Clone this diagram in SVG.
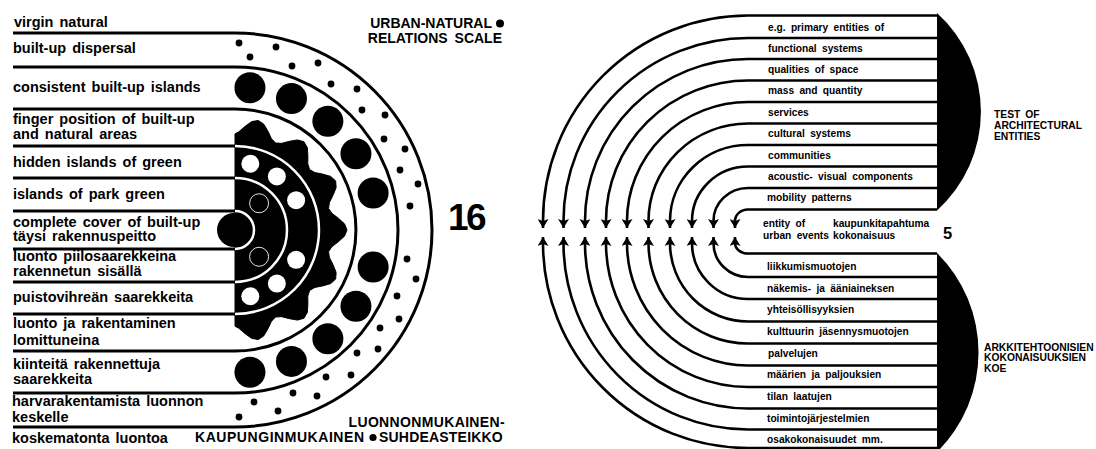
<svg xmlns="http://www.w3.org/2000/svg" width="1096" height="449" viewBox="0 0 1096 449">
<defs>
<style>
.lbl{font-family:"Liberation Sans",Arial,sans-serif;font-weight:bold;font-size:14.5px;word-spacing:2px;fill:#000}
.ttl{font-family:"Liberation Sans",Arial,sans-serif;font-weight:bold;font-size:14px;word-spacing:3px;fill:#000}
.rl{font-family:"Liberation Sans",Arial,sans-serif;font-weight:bold;font-size:10.2px;word-spacing:2.5px;fill:#000}
.rt{font-family:"Liberation Sans",Arial,sans-serif;font-weight:bold;font-size:10.3px;word-spacing:2px;fill:#000}
.ln{fill:none;stroke:#000;stroke-width:3}
.wl{fill:none;stroke:#fff;stroke-width:2.5}
.rln{fill:none;stroke:#000;stroke-width:2.6;marker-end:url(#ah)}
.dot{fill:#000}
.wd{fill:#fff}
.oc{fill:none;stroke:#fff;stroke-width:0.9}
</style>
<marker id="ah" viewBox="0 0 9 11" refX="9" refY="5.5" markerWidth="9" markerHeight="11" markerUnits="userSpaceOnUse" orient="auto">
<path d="M0,0 L9,5.5 L0,11 L2,5.5 z" fill="#000"/>
</marker>
</defs>
<rect width="1096" height="449" fill="#fff"/>

<!-- LEFT: urban-natural relations scale -->
<g id="scale-rings">
<path class="ln" d="M13,33 H235 A197,197 0 0 1 235,427 H13"/>
<path class="ln" d="M13,67 H235 A163,163 0 0 1 235,393 H13"/>
<path class="ln" d="M13,109 H235 A121,121 0 0 1 235,351 H13"/>
<path class="ln" d="M13,146 H235 M13,314 H235"/>
<path class="ln" d="M13,178 H235 M13,282 H235"/>
<path class="ln" d="M13,211 H235 M13,249 H235"/>
</g>

<g id="gear">
<path fill="#000" stroke="#000" stroke-width="1" stroke-linejoin="round" d="M235,133.8 L238.86,131.74 L244.97,126.48 L251.68,121.62 L258.29,120.45 L263.84,124.2 L268,131.37 L271.44,138.66 L275.57,142.99 L281.54,143.37 L289.34,141.33 L297.5,139.9 L303.95,141.74 L307.31,147.55 L307.89,155.82 L307.79,163.88 L309.61,169.59 L314.81,172.54 L322.71,174.12 L330.68,176.42 L335.66,180.9 L336.13,187.59 L333.03,195.28 L329.41,202.48 L328.54,208.4 L331.92,213.35 L338.33,218.23 L344.48,223.78 L347,230 L344.48,236.22 L338.33,241.77 L331.92,246.65 L328.54,251.6 L329.41,257.52 L333.03,264.72 L336.13,272.41 L335.66,279.1 L330.68,283.58 L322.71,285.88 L314.81,287.46 L309.61,290.41 L307.79,296.12 L307.89,304.18 L307.31,312.45 L303.95,318.26 L297.5,320.1 L289.34,318.67 L281.54,316.63 L275.57,317.01 L271.44,321.34 L268,328.63 L263.84,335.8 L258.29,339.55 L251.68,338.38 L244.97,333.52 L238.86,328.26 L235,326.2 Z"/>
<path class="wl" d="M235,146 A84,84 0 0 1 235,314"/>
<path class="wl" d="M235,178 A52,52 0 0 1 235,282"/>
<path class="wl" d="M235,211 A19,19 0 0 1 235,249"/>
<circle class="wd" cx="250.3" cy="163.74" r="9"/>
<circle class="wd" cx="276.86" cy="176.42" r="9"/>
<circle class="wd" cx="296.12" cy="200.19" r="9"/>
<circle class="wd" cx="296.12" cy="259.81" r="9"/>
<circle class="wd" cx="276.86" cy="283.58" r="9"/>
<circle class="wd" cx="250.3" cy="296.26" r="9"/>
<circle class="oc" cx="259.09" cy="203.25" r="9.5"/>
<circle class="oc" cx="259.09" cy="256.75" r="9.5"/>
<circle class="dot" cx="234" cy="230" r="17"/>
</g>

<g id="built-up-islands">
<circle class="dot" cx="373.13" cy="192.99" r="15.5"/>
<circle class="dot" cx="355.94" cy="153.69" r="15.5"/>
<circle class="dot" cx="327.87" cy="121.26" r="15.5"/>
<circle class="dot" cx="291.45" cy="98.61" r="15.5"/>
<circle class="dot" cx="249.95" cy="87.78" r="15.5"/>
<circle class="dot" cx="373.13" cy="267.01" r="15.5"/>
<circle class="dot" cx="355.94" cy="306.31" r="15.5"/>
<circle class="dot" cx="327.87" cy="338.74" r="15.5"/>
<circle class="dot" cx="291.45" cy="361.39" r="15.5"/>
<circle class="dot" cx="249.95" cy="372.22" r="15.5"/>
</g>

<g id="dispersal-dots">
<circle class="dot" cx="239" cy="43" r="3.4"/>
<circle class="dot" cx="250" cy="57" r="3.4"/>
<circle class="dot" cx="276" cy="47" r="3.4"/>
<circle class="dot" cx="292" cy="66" r="3.4"/>
<circle class="dot" cx="318" cy="63" r="3.4"/>
<circle class="dot" cx="331" cy="84" r="3.4"/>
<circle class="dot" cx="357" cy="89" r="3.4"/>
<circle class="dot" cx="362" cy="110" r="3.4"/>
<circle class="dot" cx="385" cy="115" r="3.4"/>
<circle class="dot" cx="384" cy="139" r="3.4"/>
<circle class="dot" cx="405" cy="149" r="3.4"/>
<circle class="dot" cx="400" cy="170" r="3.4"/>
<circle class="dot" cx="418" cy="184" r="3.4"/>
<circle class="dot" cx="410" cy="206" r="3.4"/>
<circle class="dot" cx="407" cy="259" r="3.4"/>
<circle class="dot" cx="416" cy="279" r="3.4"/>
<circle class="dot" cx="397" cy="296" r="3.4"/>
<circle class="dot" cx="399" cy="319" r="3.4"/>
<circle class="dot" cx="380" cy="328" r="3.4"/>
<circle class="dot" cx="378" cy="349" r="3.4"/>
<circle class="dot" cx="357" cy="353" r="3.4"/>
<circle class="dot" cx="351" cy="375" r="3.4"/>
<circle class="dot" cx="326" cy="377" r="3.4"/>
<circle class="dot" cx="317" cy="396" r="3.4"/>
<circle class="dot" cx="293" cy="393" r="3.4"/>
<circle class="dot" cx="278" cy="411" r="3.4"/>
<circle class="dot" cx="254" cy="402" r="3.4"/>
<circle class="dot" cx="239" cy="417" r="3.4"/>
</g>

<g id="left-labels">
<text class="lbl" x="14" y="26.5">virgin natural</text>
<text class="lbl" x="13" y="53.3">built-up dispersal</text>
<text class="lbl" x="13" y="92.3">consistent built-up islands</text>
<text class="lbl" x="13" y="124.3">finger position of built-up</text>
<text class="lbl" x="13" y="138.5">and natural areas</text>
<text class="lbl" x="13" y="166.5">hidden islands of green</text>
<text class="lbl" x="13" y="198.5">islands of park green</text>
<text class="lbl" x="13" y="226.6">complete cover of built-up</text>
<text class="lbl" x="13" y="240.8">täysi rakennuspeitto</text>
<text class="lbl" x="13" y="261">luonto piilosaarekkeina</text>
<text class="lbl" x="13" y="275.7">rakennetun sisällä</text>
<text class="lbl" x="13" y="301.7">puistovihreän saarekkeita</text>
<text class="lbl" x="13" y="327.7">luonto ja rakentaminen</text>
<text class="lbl" x="13" y="344.5">lomittuneina</text>
<text class="lbl" x="13" y="369.3">kiinteitä rakennettuja</text>
<text class="lbl" x="13" y="384">saarekkeita</text>
<text class="lbl" x="12" y="406">harvarakentamista luonnon</text>
<text class="lbl" x="12" y="421.5">keskelle</text>
<text class="lbl" x="12" y="443">koskematonta luontoa</text>
</g>

<g id="left-titles">
<text class="ttl" x="492" y="28" text-anchor="end">URBAN-NATURAL</text>
<circle class="dot" cx="500" cy="23.5" r="4"/>
<text class="ttl" x="502" y="43" text-anchor="end">RELATIONS SCALE</text>
<text x="448" y="230" font-family="Liberation Sans, Arial, sans-serif" font-weight="bold" font-size="37" letter-spacing="-2.5">16</text>
<text class="ttl" x="505" y="427" text-anchor="end" letter-spacing="0.35">LUONNONMUKAINEN-</text>
<text class="ttl" x="195" y="442" letter-spacing="0.55">KAUPUNGINMUKAINEN</text>
<circle class="dot" cx="373" cy="437.5" r="3.6"/>
<text class="ttl" x="379" y="442" letter-spacing="0.2">SUHDEASTEIKKO</text>
</g>

<!-- RIGHT: test of architectural entities -->
<g id="connectors">
<path class="rln" d="M937,15.5 H748 A205,205.5 0 0 0 543,221 V228"/>
<path class="rln" d="M937,38 H748 A184.5,183 0 0 0 563.5,221 V228"/>
<path class="rln" d="M937,59 H748 A163,162 0 0 0 585,221 V228"/>
<path class="rln" d="M937,80.5 H748 A142,140.5 0 0 0 606,221 V228"/>
<path class="rln" d="M937,102 H748 A121,119 0 0 0 627,221 V228"/>
<path class="rln" d="M937,123.5 H748 A99.5,97.5 0 0 0 648.5,221 V228"/>
<path class="rln" d="M937,145 H748 A78,76 0 0 0 670,221 V228"/>
<path class="rln" d="M937,166.5 H748 A56,54.5 0 0 0 692,221 V228"/>
<path class="rln" d="M937,188 H748 A34.5,33 0 0 0 713.5,221 V228"/>
<path class="rln" d="M937,209.5 H748 A13,11.5 0 0 0 735,221 V228"/>
<path class="rln" d="M937,448 H748 A205,205 0 0 1 543,243 V237"/>
<path class="rln" d="M937,429.5 H748 A184.5,186.5 0 0 1 563.5,243 V237"/>
<path class="rln" d="M937,408.5 H748 A163,165.5 0 0 1 585,243 V237"/>
<path class="rln" d="M937,387 H748 A142,144 0 0 1 606,243 V237"/>
<path class="rln" d="M937,365.5 H748 A121,122.5 0 0 1 627,243 V237"/>
<path class="rln" d="M937,343.5 H748 A99.5,100.5 0 0 1 648.5,243 V237"/>
<path class="rln" d="M937,321.5 H748 A78,78.5 0 0 1 670,243 V237"/>
<path class="rln" d="M937,299 H748 A56,56 0 0 1 692,243 V237"/>
<path class="rln" d="M937,277 H748 A34.5,34 0 0 1 713.5,243 V237"/>
<path class="rln" d="M937,253.5 H748 A13,10.5 0 0 1 735,243 V237"/>
</g>

<g id="test-top">
<path fill="#000" d="M937,13 A133,133 0 0 1 937,210.5 Z"/>
<text class="rl" x="768" y="30.5">e.g. primary entities of</text>
<text class="rl" x="768" y="52">functional systems</text>
<text class="rl" x="768" y="73">qualities of space</text>
<text class="rl" x="768" y="94">mass and quantity</text>
<text class="rl" x="768" y="115.5">services</text>
<text class="rl" x="768" y="137">cultural systems</text>
<text class="rl" x="768" y="158.5">communities</text>
<text class="rl" x="768" y="180">acoustic- visual components</text>
<text class="rl" x="767" y="201">mobility patterns</text>
<text class="rt" x="994" y="117.5">TEST OF</text>
<text class="rt" x="994" y="128.5">ARCHITECTURAL</text>
<text class="rt" x="994" y="139.5">ENTITIES</text>
</g>

<g id="entity-node">
<text class="rl" x="763" y="226.7">entity of</text>
<text class="rl" x="833" y="226.7">kaupunkitapahtuma</text>
<text class="rl" x="763" y="238.5">urban events</text>
<text class="rl" x="833" y="238.5">kokonaisuus</text>
<text x="943" y="238.5" font-family="Liberation Sans, Arial, sans-serif" font-weight="bold" font-size="16.5">5</text>
</g>

<g id="test-bottom">
<path fill="#000" d="M937,253 A140,140 0 0 1 937,452 Z"/>
<text class="rl" x="767" y="269.5">liikkumismuotojen</text>
<text class="rl" x="767" y="291.7">näkemis- ja ääniaineksen</text>
<text class="rl" x="767" y="313.3">yhteisöllisyyksien</text>
<text class="rl" x="767" y="335">kulttuurin jäsennysmuotojen</text>
<text class="rl" x="768" y="356.7">palvelujen</text>
<text class="rl" x="767" y="377.5">määrien ja paljouksien</text>
<text class="rl" x="767" y="400">tilan laatujen</text>
<text class="rl" x="767" y="421.7">toimintojärjestelmien</text>
<text class="rl" x="767" y="442.7">osakokonaisuudet mm.</text>
<text class="rt" x="984" y="350.7">ARKKITEHTOONISIEN</text>
<text class="rt" x="984" y="361.2">KOKONAISUUKSIEN</text>
<text class="rt" x="984" y="371.7">KOE</text>
</g>
</svg>
